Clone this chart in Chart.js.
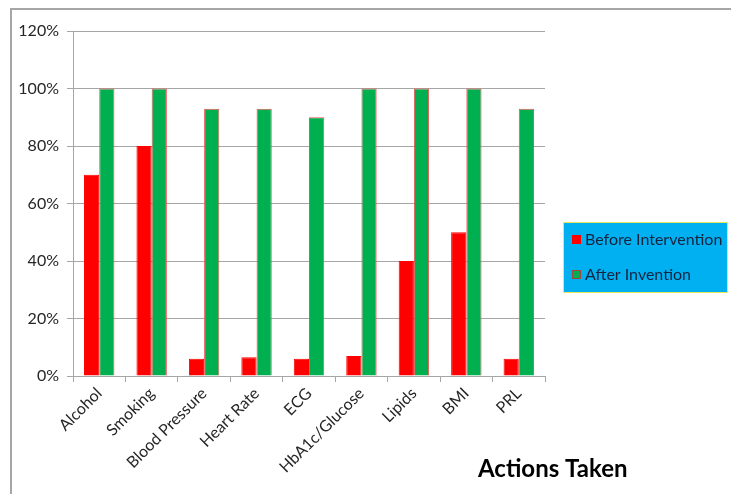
<!DOCTYPE html>
<html>
<head>
<meta charset="utf-8">
<script src="https://cdn.jsdelivr.net/npm/chart.js@4"></script>
<style>
  html, body { margin: 0; padding: 0; background: #fff; }
  #wrap { width: 731px; height: 494px; position: relative; }
</style>
</head>
<body>
<div id="wrap"><canvas id="chart"></canvas></div>
<script>
const categories = ['Alcohol', 'Smoking', 'Blood Pressure', 'Heart Rate', 'ECG', 'HbA1c/Glucose', 'Lipids', 'BMI', 'PRL'];
const beforeValues = [70, 80, 6, 6.5, 6, 7, 40, 50, 6];
const afterValues = [100, 100, 93, 93, 90, 100, 100, 100, 93];
const seriesNames = ['Before Intervention', 'After Invention'];
const yTicks = [0, 20, 40, 60, 80, 100, 120];
const xTitle = 'Actions Taken';

const fontFam = 'Lato, "Open Sans", sans-serif';

// frame, custom legend box and axis title
const extras = {
  id: 'extras',
  afterDraw(chart) {
    const ctx = chart.ctx;
    ctx.save();
    // outer frame
    ctx.strokeStyle = '#a6a6a6';
    ctx.lineWidth = 2;
    ctx.beginPath();
    ctx.moveTo(11, 494);
    ctx.lineTo(11, 9);
    ctx.lineTo(731, 9);
    ctx.stroke();

    // legend
    ctx.fillStyle = '#00b0f0';
    ctx.fillRect(563, 222, 164, 70);
    ctx.strokeStyle = '#e8e860';
    ctx.lineWidth = 1;
    ctx.strokeRect(563.5, 222.5, 164, 70);
    const ds = chart.data.datasets;
    const rows = [240, 275];
    ds.forEach((d, i) => {
      ctx.fillStyle = d.backgroundColor;
      ctx.fillRect(572, rows[i] - 5, 9, 9);
      ctx.strokeStyle = i === 0 ? '#ff0000' : '#9a4a3a';
      ctx.strokeRect(572.5, rows[i] - 4.5, 8, 8);
      ctx.fillStyle = '#17233f';
      ctx.font = '16px ' + fontFam;
      ctx.textBaseline = 'middle';
      ctx.textAlign = 'left';
      ctx.fillText(d.label, 585, rows[i]);
    });

    // x axis title
    ctx.fillStyle = '#000';
    ctx.font = 'bold 24px ' + fontFam;
    ctx.textAlign = 'left';
    ctx.textBaseline = 'middle';
    ctx.fillText(xTitle, 478, 469);
    ctx.restore();
  }
};

new Chart(document.getElementById('chart'), {
  type: 'bar',
  data: {
    labels: categories,
    datasets: [{
      label: seriesNames[0],
      data: beforeValues,
      backgroundColor: '#ff0000',
      borderColor: '#ff0000',
      borderWidth: 1
    }, {
      label: seriesNames[1],
      data: afterValues,
      backgroundColor: '#00b050',
      borderColor: '#f05050',
      borderWidth: 1
    }]
  },
  options: {
    responsive: true,
    maintainAspectRatio: false,
    animation: false,
    datasets: {
      bar: { categoryPercentage: 0.58, barPercentage: 1.0 }
    },
    layout: { padding: { left: 0, top: 31, right: 186, bottom: 0 } },
    plugins: {
      legend: { display: false },
      tooltip: { enabled: false }
    },
    scales: {
      x: {
        grid: { display: true, drawOnChartArea: false, color: '#a6a6a6', tickLength: 6, offset: true },
        border: { color: '#a6a6a6', width: 1 },
        ticks: {
          color: '#262626',
          font: { family: fontFam, size: 16 },
          maxRotation: 45,
          minRotation: 45,
          padding: 2
        },
        afterFit(scale) { scale.height = 118; }
      },
      y: {
        min: 0,
        max: 120,
        afterBuildTicks(scale) { scale.ticks = yTicks.map(v => ({ value: v })); },
        grid: { color: '#a6a6a6', tickLength: 6 },
        border: { color: '#a6a6a6', width: 1 },
        ticks: {
          color: '#262626',
          font: { family: fontFam, size: 16 },
          padding: 8,
          callback: v => v + '%'
        },
        afterFit(scale) { scale.width = 73; }
      }
    }
  },
  plugins: [extras]
});
</script>
</body>
</html>
